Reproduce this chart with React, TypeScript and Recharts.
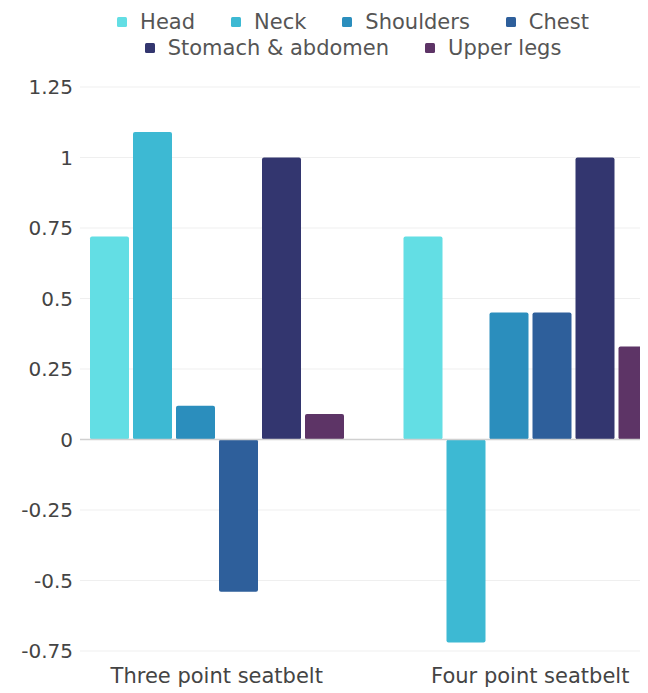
import React from 'react';
import { BarChart, Bar, XAxis, YAxis, CartesianGrid, Legend, ReferenceLine } from 'recharts';

const categories = ['Three point seatbelt', 'Four point seatbelt'];
const head = [0.72, 0.72];
const neck = [1.09, -0.72];
const shoulders = [0.12, 0.45];
const chest = [-0.54, 0.45];
const stomach = [1.0, 1.0];
const upperLegs = [0.09, 0.33];

const seriesNames = ['Head', 'Neck', 'Shoulders', 'Chest', 'Stomach & abdomen', 'Upper legs'];
const seriesColors = ['#63DEE4', '#3DB9D3', '#2B8EBD', '#2E5F9B', '#33366F', '#5D3466'];
const seriesValues = [head, neck, shoulders, chest, stomach, upperLegs];
const yTicks = [-0.75, -0.5, -0.25, 0, 0.25, 0.5, 0.75, 1, 1.25];

const data = categories.map((c, i) => {
  const row: Record<string, string | number> = { category: c };
  seriesNames.forEach((n, j) => {
    row[n] = seriesValues[j][i];
  });
  return row;
});

const FONT = '"DejaVu Sans", sans-serif';

const renderLegend = () => (
  <div
    style={{
      width: 640,
      height: 79,
      boxSizing: 'border-box',
      paddingLeft: 50,
      paddingTop: 1,
      display: 'flex',
      flexWrap: 'wrap',
      justifyContent: 'center',
      alignContent: 'flex-start',
      columnGap: 36,
      fontFamily: FONT,
      fontSize: 21,
      color: '#555',
      lineHeight: '26px',
    }}
  >
    {seriesNames.map((n, i) => (
      <div key={n} style={{ display: 'flex', alignItems: 'center', height: 26 }}>
        <span
          style={{
            display: 'inline-block',
            width: 10,
            height: 10,
            background: seriesColors[i],
            marginRight: 13,
            borderRadius: 1.5,
          }}
        />
        <span>{n}</span>
      </div>
    ))}
  </div>
);

export default function App() {
  return (
    <div style={{ width: 640, height: 685, overflow: 'hidden' }}>
      <BarChart
        width={640}
        height={685}
        data={data}
        margin={{ top: 0, right: 0, bottom: 0, left: 0 }}
        barSize={39}
        barGap={4}
      >
        <CartesianGrid vertical={false} stroke="#efefef" />
        <XAxis
          dataKey="category"
          tickLine={false}
          axisLine={false}
          tickSize={0}
          tickMargin={17}
          height={42}
          interval={0}
          padding={{ left: -20, right: -39 }}
          tick={{ fontSize: 21, fill: '#444', fontFamily: FONT }}
        />
        <YAxis
          type="number"
          width={72}
          domain={[-0.75, 1.25]}
          ticks={yTicks}
          interval={0}
          tickLine={false}
          axisLine={false}
          tickSize={0}
          tickMargin={7}
          tick={{ fontSize: 20, fill: '#444', fontFamily: FONT }}
        />
        <Legend
          verticalAlign="top"
          align="left"
          wrapperStyle={{ left: 0, top: 0, width: 640 }}
          content={renderLegend}
        />
        <ReferenceLine y={0} stroke="#d0d0d0" strokeWidth={1.5} />
        {seriesNames.map((n, i) => (
          <Bar
            key={n}
            dataKey={n}
            fill={seriesColors[i]}
            radius={[2, 2, 2, 2]}
            isAnimationActive={false}
          />
        ))}
      </BarChart>
    </div>
  );
}
